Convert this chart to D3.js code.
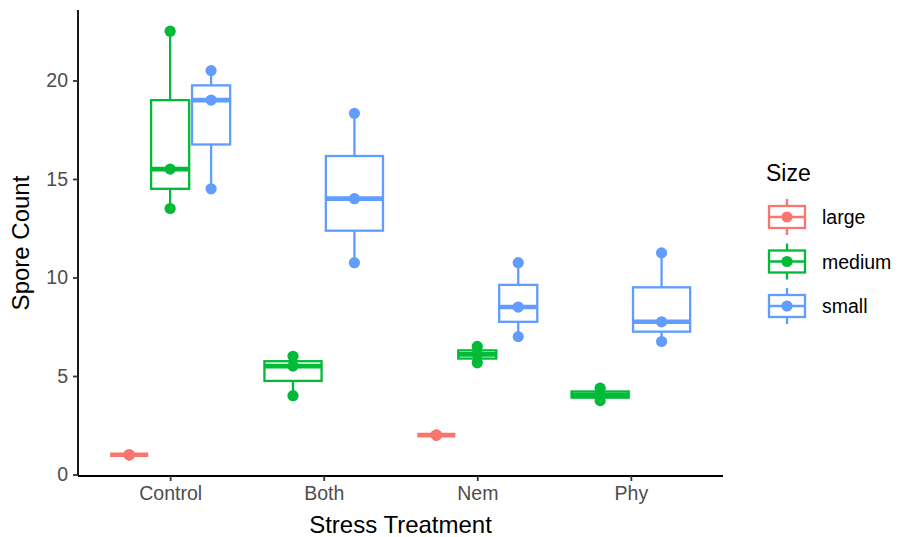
<!DOCTYPE html>
<html>
<head>
<meta charset="utf-8">
<script src="https://cdn.jsdelivr.net/npm/d3@7"></script>
<style>
  html, body { margin: 0; padding: 0; background: #ffffff; }
  svg { display: block; font-family: "Liberation Sans", Arial, Helvetica, sans-serif; }
</style>
</head>
<body>
<svg id="chart" width="899" height="537"></svg>
<script>
// ---- data ----
const categories = ["Control", "Both", "Nem", "Phy"];
const sizes = ["large", "medium", "small"];
const colors = ["#F8766D", "#00BA38", "#619CFF"];
// observations per treatment (null = no data for that size)
const largeValues  = [[1, 1, 1], null, [2, 2, 2], null];
const mediumValues = [[13.5, 15.5, 22.5], [4, 5.5, 6], [5.67, 6.1, 6.5], [3.75, 4.05, 4.38]];
const smallValues  = [[14.5, 19, 20.5], [10.75, 14, 18.33], [7, 8.5, 10.75], [6.75, 7.75, 11.25]];
const yTicks = [0, 5, 10, 15, 20];
const xTitle = "Stress Treatment";
const yTitle = "Spore Count";
const legendTitle = "Size";

const seriesValues = [largeValues, mediumValues, smallValues];

// ---- layout ----
const svg = d3.select("#chart");
const panel = { left: 78, right: 723, top: 10, bottom: 476 };

const x = d3.scalePoint().domain(categories).range([panel.left, panel.right]).padding(0.6);
const allVals = seriesValues.flat().filter(d => d).flat();
const yMin = d3.min(allVals), yMax = d3.max(allVals);
const pad = (yMax - yMin) * 0.05;
const y = d3.scaleLinear().domain([yMin - pad, yMax + pad]).range([panel.bottom, panel.top]);

// build box stats
const boxes = [];
categories.forEach((cat, ci) => {
  const present = sizes.map((s, si) => ({ s, si, vals: seriesValues[si][ci] })).filter(d => d.vals);
  const n = present.length;
  const groupW = x.step() * 0.8;
  const slot = groupW / n;
  present.forEach((d, k) => {
    const v = d.vals.slice().sort(d3.ascending);
    const q1 = d3.quantile(v, 0.25), med = d3.quantile(v, 0.5), q3 = d3.quantile(v, 0.75);
    const iqr = q3 - q1;
    const lo = d3.min(v.filter(t => t >= q1 - 1.5 * iqr));
    const hi = d3.max(v.filter(t => t <= q3 + 1.5 * iqr));
    const cx = x(cat) - groupW / 2 + slot * (k + 0.5);
    boxes.push({ cat, size: d.s, color: colors[d.si], vals: v, q1, med, q3, lo, hi, cx, w: slot * 0.93 });
  });
});

const g = svg.append("g");
const bg = g.selectAll("g.box").data(boxes).join("g").attr("class", "box");
bg.append("line")
  .attr("x1", d => d.cx).attr("x2", d => d.cx)
  .attr("y1", d => y(d.q3)).attr("y2", d => y(d.hi))
  .attr("stroke", d => d.color).attr("stroke-width", 2.3);
bg.append("line")
  .attr("x1", d => d.cx).attr("x2", d => d.cx)
  .attr("y1", d => y(d.q1)).attr("y2", d => y(d.lo))
  .attr("stroke", d => d.color).attr("stroke-width", 2.3);
bg.append("rect")
  .attr("x", d => d.cx - d.w / 2).attr("width", d => d.w)
  .attr("y", d => y(d.q3)).attr("height", d => Math.max(0, y(d.q1) - y(d.q3)))
  .attr("fill", "#ffffff").attr("stroke", d => d.color).attr("stroke-width", 2.3);
bg.append("line")
  .attr("x1", d => d.cx - d.w / 2).attr("x2", d => d.cx + d.w / 2)
  .attr("y1", d => y(d.med)).attr("y2", d => y(d.med))
  .attr("stroke", d => d.color).attr("stroke-width", 4.6);
bg.selectAll("circle").data(d => d.vals.map(v => ({ v, cx: d.cx, color: d.color }))).join("circle")
  .attr("cx", d => d.cx).attr("cy", d => y(d.v)).attr("r", 5.6)
  .attr("fill", d => d.color);

// axes
const yAxis = svg.append("g").attr("transform", `translate(${panel.left},0)`)
  .call(d3.axisLeft(y).tickValues(yTicks).tickSize(5).tickPadding(5));
const xAxis = svg.append("g").attr("transform", `translate(0,${panel.bottom})`)
  .call(d3.axisBottom(x).tickSize(5).tickPadding(5));
[yAxis, xAxis].forEach(a => {
  a.select(".domain").attr("stroke", "#000").attr("stroke-width", 1.8);
  a.selectAll(".tick line").attr("stroke", "#333").attr("stroke-width", 1.8);
  a.selectAll(".tick text").attr("fill", "#4D4D4D").style("font-size", "19.5px")
    .style("font-family", '"Liberation Sans", Arial, sans-serif');
});
xAxis.select(".domain").attr("d", `M${panel.left},0H${panel.right}`);
yAxis.select(".domain").attr("d", `M0,${panel.bottom}V${panel.top}`);

// titles
svg.append("text").attr("x", (panel.left + panel.right) / 2).attr("y", 533)
  .attr("text-anchor", "middle").style("font-size", "24px").attr("fill", "#000").text(xTitle);
svg.append("text").attr("transform", `translate(29,${(panel.top + panel.bottom) / 2}) rotate(-90)`)
  .attr("text-anchor", "middle").style("font-size", "24px").attr("fill", "#000").text(yTitle);

// legend
const leg = svg.append("g");
leg.append("text").attr("x", 766).attr("y", 180.5).style("font-size", "23px").attr("fill", "#000").text(legendTitle);
const keyY = d3.scalePoint().domain(sizes).range([217, 306]);
const items = leg.selectAll("g.item").data(sizes).join("g").attr("class", "item")
  .attr("transform", s => `translate(787,${keyY(s)})`);
items.append("line").attr("x1", 0).attr("x2", 0).attr("y1", -18).attr("y2", 18)
  .attr("stroke", (s, i) => colors[i]).attr("stroke-width", 2.3);
items.append("rect").attr("x", -18).attr("y", -11).attr("width", 36).attr("height", 22)
  .attr("fill", "#fff").attr("stroke", (s, i) => colors[i]).attr("stroke-width", 2.3);
items.append("line").attr("x1", -18).attr("x2", 18).attr("y1", 0).attr("y2", 0)
  .attr("stroke", (s, i) => colors[i]).attr("stroke-width", 2.3);
items.append("circle").attr("r", 5.6).attr("fill", (s, i) => colors[i]);
items.append("text").attr("x", 35).attr("y", 7).style("font-size", "19.5px").attr("fill", "#000").text(s => s);
</script>
</body>
</html>
